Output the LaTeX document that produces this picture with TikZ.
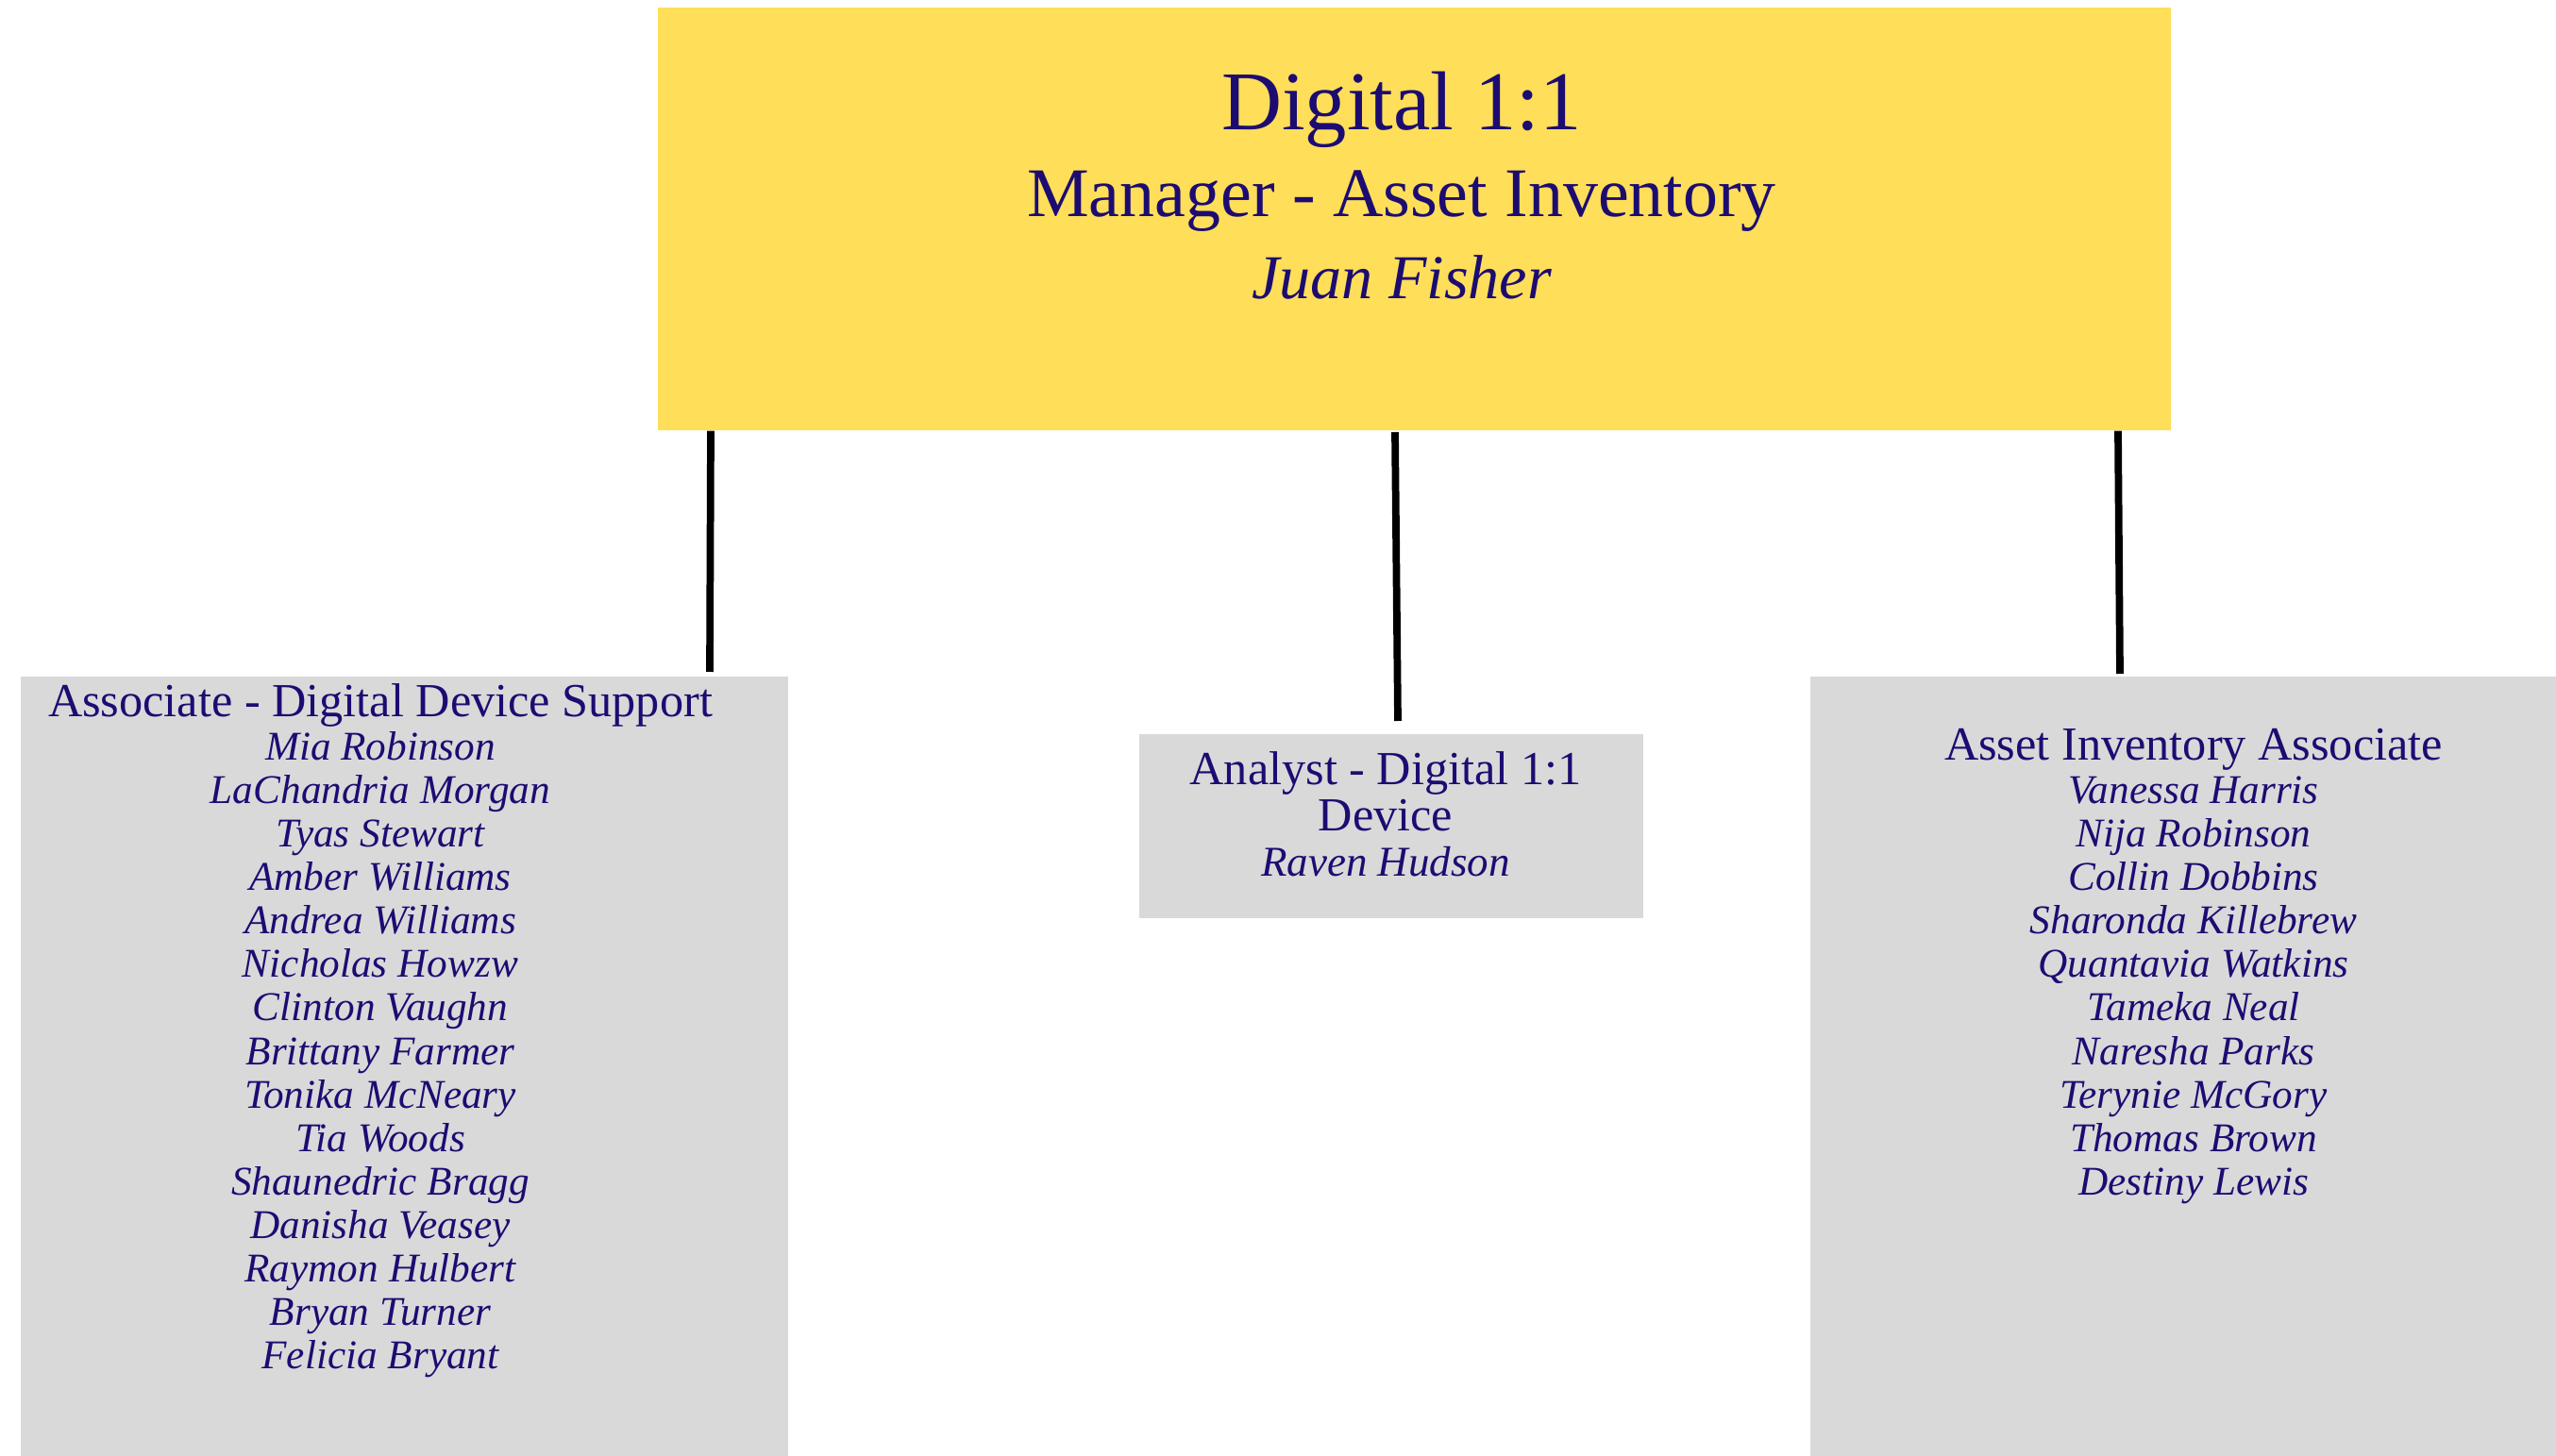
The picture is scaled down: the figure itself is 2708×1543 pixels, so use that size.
\documentclass[tikz,border=0pt]{standalone}
\usepackage{fontspec}
\setmainfont{Liberation Serif}
\definecolor{ink}{HTML}{1C0C72}
\definecolor{boxyellow}{HTML}{FFDE59}
\definecolor{boxgray}{HTML}{D9D9D9}
\tikzset{
  box/.style={draw=none, rectangle, inner sep=0pt, anchor=north west},
  lbl/.style={inner sep=0pt, anchor=base, text=ink},
  head/.style={lbl, font=\fontsize{14.3}{14.3}\selectfont},
  person/.style={lbl, font=\fontsize{12.3}{12.3}\selectfont\itshape},
  conn/.style={draw=black, line width=2.2pt}
}
\begin{document}
\begin{tikzpicture}[x=0.01cm, y=-0.01cm]
\useasboundingbox (0,0) rectangle (2708,1543);
% boxes
\node[box, fill=boxyellow, minimum width=16.02cm, minimum height=4.48cm] (top) at (696,7) {};
\node[box, fill=boxgray, minimum width=8.13cm, minimum height=8.27cm] (left) at (21,716) {};
\node[box, fill=boxgray, minimum width=5.34cm, minimum height=1.95cm] (mid) at (1206,777) {};
\node[box, fill=boxgray, minimum width=7.91cm, minimum height=8.27cm] (right) at (1917,716) {};
% connectors
\coordinate (la) at (top.south -| 753,0);
\coordinate (lb) at (left.north -| 752,0);
\coordinate (ma) at (1478,458);
\coordinate (mb) at (1481,764);
\coordinate (ra) at (top.south -| 2244,0);
\coordinate (rb) at (right.north -| 2246,0);
\draw[conn] (la) -- ([yshift=0.04cm]lb);
\draw[conn] (ma) -- (mb);
\draw[conn] (ra) -- ([yshift=0.02cm]rb);
% top texts
\node[lbl, font=\fontsize{25.2}{25.2}\selectfont] (t1) at (1485,138) {Digital 1:1};
\node[lbl, font=\fontsize{21}{21}\selectfont] (t2) at (1485,230) {Manager - Asset Inventory};
\node[lbl, font=\fontsize{18.8}{18.8}\selectfont\itshape] (t3) at (1485,317) {Juan Fisher};
% left texts
\node[head] (lh) at (403,760) {Associate - Digital Device Support};
\foreach \n [count=\i] in {Mia Robinson, LaChandria Morgan, Tyas Stewart, Amber Williams, Andrea Williams, Nicholas Howzw, Clinton Vaughn, Brittany Farmer, Tonika McNeary, Tia Woods, Shaunedric Bragg, Danisha Veasey, Raymon Hulbert, Bryan Turner, Felicia Bryant}
  \node[person] (ln\i) at (403,760+46*\i) {\n};
% middle texts
\node[head] (mh1) at (1468,832) {Analyst - Digital 1:1};
\node[head] (mh2) at (1468,881) {Device};
\node[person, font=\fontsize{12.8}{12.8}\selectfont\itshape] (mn) at (1468,929) {Raven Hudson};
% right texts
\node[head] (rh) at (2324,806) {Asset Inventory Associate};
\foreach \n [count=\i] in {Vanessa Harris, Nija Robinson, Collin Dobbins, Sharonda Killebrew, Quantavia Watkins, Tameka Neal, Naresha Parks, Terynie McGory, Thomas Brown, Destiny Lewis}
  \node[person] (rn\i) at (2324,806+46*\i) {\n};
\end{tikzpicture}
\end{document}
